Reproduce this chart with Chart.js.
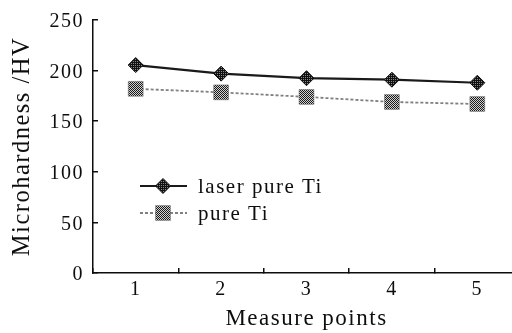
<!DOCTYPE html>
<html>
<head>
<meta charset="utf-8">
<script src="https://cdn.jsdelivr.net/npm/chart.js"></script>
<style>
  html, body { margin: 0; padding: 0; background: #fff; overflow: hidden; }
  #wrap { width: 520px; height: 333px; }
</style>
</head>
<body>
<div id="wrap"><canvas id="chart" width="520" height="333" style="width:520px;height:333px"></canvas></div>
<script>
// data
const measurePoints = ['1', '2', '3', '4', '5'];
const laserPureTi = [205.5, 197, 192.5, 191, 188];
const pureTi = [182, 178.5, 174, 169, 167];
const seriesNames = ['laser pure Ti', 'pure Ti'];
const yTicks = [0, 50, 100, 150, 200, 250];

const serif = "'Liberation Serif', 'Times New Roman', serif";
const ink = '#0d0d0d';

// small tiled fills to mimic the printed marker textures
function makePattern(cells) {
  const c = document.createElement('canvas');
  c.width = cells[0].length;
  c.height = cells.length;
  const g = c.getContext('2d');
  cells.forEach((row, y) => row.forEach((col, x) => {
    g.fillStyle = col;
    g.fillRect(x, y, 1, 1);
  }));
  return g.createPattern(c, 'repeat');
}
const darkFill = makePattern([['#111', '#111'], ['#111', '#888']]);
const checkFill = makePattern([['#1a1a1a', '#d0d0d0'], ['#d0d0d0', '#1a1a1a']]);

// letter spacing for the wide printed type
const spacing = {
  id: 'spacing',
  beforeInit(chart) { chart.ctx.letterSpacing = '1.5px'; },
  beforeDraw(chart) { chart.ctx.letterSpacing = '1.5px'; }
};

// legend drawn inside the plot area
const innerLegend = {
  id: 'innerLegend',
  afterDraw(chart) {
    const ctx = chart.ctx;
    const area = chart.chartArea;
    const x0 = area.left + 47, x1 = area.left + 94, xm = area.left + 70;
    const rows = [area.top + 166, area.top + 193];
    chart.data.datasets.forEach((ds, i) => {
      const y = rows[i];
      ctx.save();
      ctx.strokeStyle = ds.borderColor;
      ctx.lineWidth = ds.borderWidth;
      ctx.setLineDash(ds.borderDash || []);
      ctx.beginPath();
      ctx.moveTo(x0, y);
      ctx.lineTo(x1, y);
      ctx.stroke();
      ctx.setLineDash([]);
      ctx.fillStyle = ds.pointBackgroundColor;
      ctx.strokeStyle = ds.pointBorderColor;
      ctx.lineWidth = ds.pointBorderWidth;
      Chart.helpers.drawPoint(ctx, {
        pointStyle: ds.pointStyle,
        radius: ds.pointRadius,
        borderWidth: ds.pointBorderWidth,
        rotation: 0
      }, xm, y);
      ctx.fillStyle = ink;
      ctx.font = '21px ' + serif;
      ctx.letterSpacing = '1.5px';
      ctx.textBaseline = 'middle';
      ctx.textAlign = 'left';
      ctx.fillText(ds.label, area.left + 105, y + 1);
      ctx.restore();
    });
  }
};

new Chart(document.getElementById('chart'), {
  type: 'line',
  data: {
    labels: measurePoints,
    datasets: [
      {
        label: seriesNames[0],
        data: laserPureTi,
        borderColor: '#1a1a1a',
        borderWidth: 2.2,
        pointStyle: 'rectRot',
        pointRadius: 7.5,
        pointBackgroundColor: darkFill,
        pointBorderColor: '#111',
        pointBorderWidth: 1,
        tension: 0
      },
      {
        label: seriesNames[1],
        data: pureTi,
        borderColor: '#808080',
        borderWidth: 1.8,
        borderDash: [3, 2],
        pointStyle: 'rect',
        pointRadius: 10.5,
        pointBackgroundColor: checkFill,
        pointBorderColor: '#666',
        pointBorderWidth: 0.5,
        tension: 0
      }
    ]
  },
  options: {
    responsive: false,
    maintainAspectRatio: false,
    devicePixelRatio: 1,
    animation: false,
    layout: { autoPadding: false, padding: { top: 20, right: 0, bottom: 0, left: 0 } },
    plugins: {
      legend: { display: false },
      tooltip: { enabled: false }
    },
    scales: {
      x: {
        offset: true,
        afterFit(scale) {
          scale.height = 60;
          scale.paddingLeft = 0;
          scale.paddingRight = 0;
        },
        grid: {
          offset: true,
          drawOnChartArea: false,
          tickLength: -5,
          color: ink,
          lineWidth: 1.5
        },
        border: { display: true, color: ink, width: 1.5 },
        ticks: {
          color: ink,
          padding: 10,
          font: { family: serif, size: 20 }
        },
        title: {
          display: true,
          text: 'Measure points',
          color: ink,
          font: { family: serif, size: 23 },
          padding: { top: 0, bottom: 0 }
        }
      },
      y: {
        min: 0,
        max: 250,
        afterFit(scale) {
          scale.width = 93;
          scale.paddingTop = 0;
          scale.paddingBottom = 0;
        },
        afterBuildTicks(scale) { scale.ticks = yTicks.map(v => ({ value: v })); },
        grid: {
          drawOnChartArea: false,
          tickLength: -5,
          color: ink,
          lineWidth: 1.5
        },
        border: { display: true, color: ink, width: 1.5 },
        ticks: {
          color: ink,
          padding: 14,
          labelOffset: 2,
          font: { family: serif, size: 20 }
        },
        title: {
          display: true,
          text: 'Microhardness /HV',
          color: ink,
          font: { family: serif, size: 24.5 },
          padding: { top: 8, bottom: 0 }
        }
      }
    }
  },
  plugins: [spacing, innerLegend]
});
</script>
</body>
</html>
